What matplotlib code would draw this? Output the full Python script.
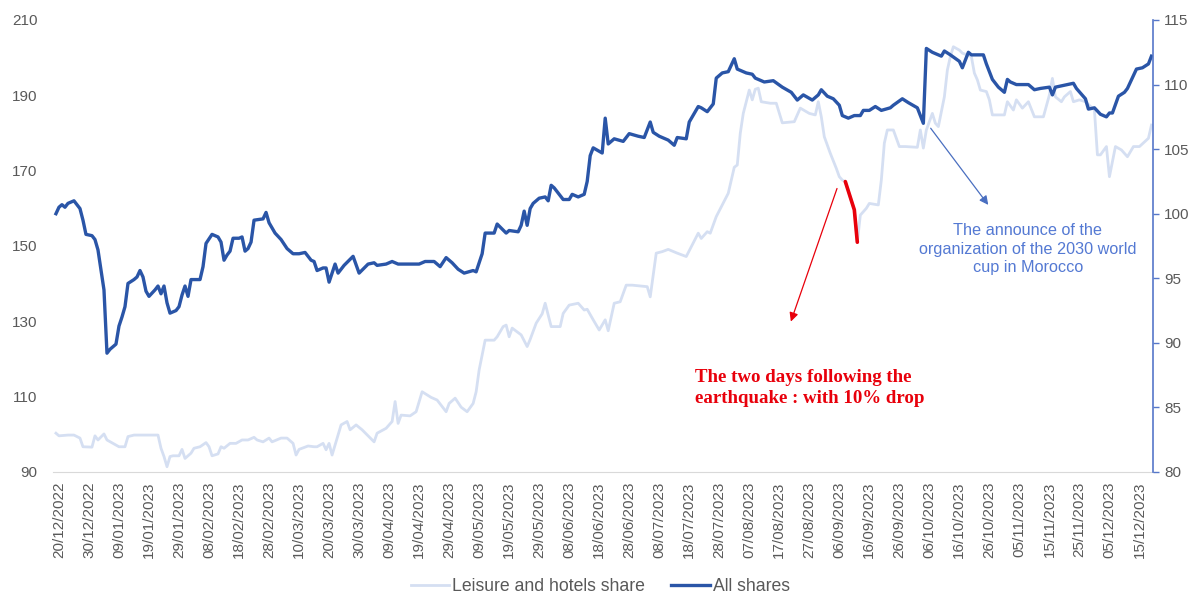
import matplotlib
matplotlib.use("Agg")
import matplotlib.pyplot as plt
import matplotlib.dates as mdates
import pandas as pd

plt.rcParams["font.family"] = ["Liberation Sans", "DejaVu Sans"]

# ---- All shares index (right axis, base 100) ----
all_dates = [
    "2022-12-19", "2022-12-20", "2022-12-21", "2022-12-22", "2022-12-23", "2022-12-25", "2022-12-26",
    "2022-12-27", "2022-12-28", "2022-12-29", "2022-12-31", "2023-01-01", "2023-01-02", "2023-01-04",
    "2023-01-05", "2023-01-06", "2023-01-08", "2023-01-09", "2023-01-10", "2023-01-11", "2023-01-12",
    "2023-01-14", "2023-01-15", "2023-01-16", "2023-01-17", "2023-01-18", "2023-01-19", "2023-01-21",
    "2023-01-22", "2023-01-23", "2023-01-24", "2023-01-25", "2023-01-26", "2023-01-28", "2023-01-29",
    "2023-01-30", "2023-01-31", "2023-02-01", "2023-02-02", "2023-02-03", "2023-02-05", "2023-02-06",
    "2023-02-07", "2023-02-09", "2023-02-11", "2023-02-12", "2023-02-13", "2023-02-14", "2023-02-15",
    "2023-02-16", "2023-02-18", "2023-02-19", "2023-02-20", "2023-02-21", "2023-02-22", "2023-02-23",
    "2023-02-26", "2023-02-27", "2023-02-28", "2023-03-02", "2023-03-04", "2023-03-06", "2023-03-08",
    "2023-03-10", "2023-03-12", "2023-03-13", "2023-03-14", "2023-03-15", "2023-03-16", "2023-03-18",
    "2023-03-19", "2023-03-20", "2023-03-22", "2023-03-23", "2023-03-25", "2023-03-28", "2023-03-30",
    "2023-04-02", "2023-04-04", "2023-04-05", "2023-04-08", "2023-04-10", "2023-04-12", "2023-04-16",
    "2023-04-19", "2023-04-21", "2023-04-24", "2023-04-26", "2023-04-28", "2023-04-30", "2023-05-02",
    "2023-05-04", "2023-05-07", "2023-05-08", "2023-05-10", "2023-05-11", "2023-05-14", "2023-05-15",
    "2023-05-18", "2023-05-19", "2023-05-22", "2023-05-23", "2023-05-24", "2023-05-25", "2023-05-26",
    "2023-05-27", "2023-05-29", "2023-05-31", "2023-06-01", "2023-06-02", "2023-06-03", "2023-06-06",
    "2023-06-08", "2023-06-09", "2023-06-11", "2023-06-13", "2023-06-14", "2023-06-15", "2023-06-16",
    "2023-06-19", "2023-06-20", "2023-06-21", "2023-06-23", "2023-06-26", "2023-06-28", "2023-07-01",
    "2023-07-03", "2023-07-05", "2023-07-06", "2023-07-08", "2023-07-11", "2023-07-13", "2023-07-14",
    "2023-07-17", "2023-07-18", "2023-07-21", "2023-07-22", "2023-07-24", "2023-07-26", "2023-07-27",
    "2023-07-29", "2023-07-31", "2023-08-02", "2023-08-03", "2023-08-06", "2023-08-08", "2023-08-09",
    "2023-08-11", "2023-08-12", "2023-08-15", "2023-08-18", "2023-08-21", "2023-08-23", "2023-08-25",
    "2023-08-28", "2023-08-30", "2023-08-31", "2023-09-02", "2023-09-04", "2023-09-06", "2023-09-07",
    "2023-09-09", "2023-09-11", "2023-09-13", "2023-09-14", "2023-09-16", "2023-09-18", "2023-09-20",
    "2023-09-23", "2023-09-24", "2023-09-27", "2023-09-29", "2023-10-02", "2023-10-03", "2023-10-04",
    "2023-10-05", "2023-10-07", "2023-10-10", "2023-10-11", "2023-10-13", "2023-10-16", "2023-10-17",
    "2023-10-19", "2023-10-20", "2023-10-24", "2023-10-25", "2023-10-27", "2023-10-29", "2023-10-31",
    "2023-11-01", "2023-11-02", "2023-11-04", "2023-11-08", "2023-11-10", "2023-11-12", "2023-11-15",
    "2023-11-16", "2023-11-17", "2023-11-19", "2023-11-23", "2023-11-24", "2023-11-27", "2023-11-28",
    "2023-11-30", "2023-12-02", "2023-12-04", "2023-12-05", "2023-12-06", "2023-12-08", "2023-12-10",
    "2023-12-11", "2023-12-14", "2023-12-16", "2023-12-18", "2023-12-19",
]
all_values = [
    100.0, 100.5, 100.7, 100.5, 100.8, 101.0, 100.7,
    100.4, 99.5, 98.4, 98.3, 98.0, 97.2, 94.1,
    89.2, 89.5, 89.9, 91.3, 92.0, 92.8, 94.6,
    94.9, 95.1, 95.6, 95.1, 94.0, 93.6, 94.1,
    94.4, 93.8, 94.4, 93.1, 92.3, 92.5, 92.8,
    93.7, 94.4, 93.6, 94.9, 94.9, 94.9, 95.9,
    97.7, 98.4, 98.2, 97.8, 96.4, 96.8, 97.1,
    98.1, 98.1, 98.2, 97.1, 97.3, 97.8, 99.5,
    99.6, 100.1, 99.3, 98.5, 98.0, 97.3, 96.9,
    96.9, 97.0, 96.7, 96.4, 96.3, 95.6, 95.8,
    95.8, 94.7, 96.1, 95.4, 96.0, 96.7, 95.4,
    96.1, 96.2, 96.0, 96.1, 96.3, 96.1, 96.1,
    96.1, 96.3, 96.3, 95.9, 96.6, 96.2, 95.7,
    95.4, 95.6, 95.5, 96.9, 98.5, 98.5, 99.2,
    98.5, 98.7, 98.6, 99.1, 100.2, 99.1, 100.4,
    100.8, 101.2, 101.3, 101.0, 102.2, 102.0, 101.1,
    101.1, 101.5, 101.3, 101.5, 102.5, 104.5, 105.1,
    104.7, 107.4, 105.4, 105.8, 105.6, 106.2, 106.0,
    105.9, 107.1, 106.3, 106.0, 105.7, 105.3, 105.9,
    105.8, 107.1, 108.3, 108.2, 107.9, 108.5, 110.5,
    110.9, 111.0, 112.0, 111.2, 110.9, 110.8, 110.5,
    110.3, 110.2, 110.3, 109.8, 109.4, 108.8, 109.2,
    108.8, 109.2, 109.6, 109.1, 108.9, 108.4, 107.6,
    107.4, 107.6, 107.6, 108.0, 108.0, 108.3, 108.0,
    108.2, 108.4, 108.9, 108.6, 108.2, 107.6, 107.0,
    112.8, 112.5, 112.2, 112.6, 112.3, 111.8, 111.3,
    112.5, 112.3, 112.3, 111.6, 110.4, 109.8, 109.4,
    110.4, 110.2, 110.0, 110.0, 109.6, 109.7, 109.8,
    109.2, 109.8, 109.9, 110.1, 109.7, 108.9, 108.1,
    108.2, 107.7, 107.5, 107.8, 107.8, 109.1, 109.4,
    109.7, 111.2, 111.3, 111.6, 112.2,
]

# ---- Leisure and hotels share (left axis, base 100) ----
leisure_dates = [
    "2022-12-19", "2022-12-20", "2022-12-23", "2022-12-25", "2022-12-27", "2022-12-28", "2022-12-31",
    "2023-01-01", "2023-01-02", "2023-01-04", "2023-01-05", "2023-01-07", "2023-01-09", "2023-01-11",
    "2023-01-12", "2023-01-14", "2023-01-18", "2023-01-22", "2023-01-23", "2023-01-24", "2023-01-25",
    "2023-01-26", "2023-01-27", "2023-01-29", "2023-01-30", "2023-01-31", "2023-02-02", "2023-02-03",
    "2023-02-05", "2023-02-07", "2023-02-08", "2023-02-09", "2023-02-11", "2023-02-12", "2023-02-13",
    "2023-02-15", "2023-02-17", "2023-02-19", "2023-02-21", "2023-02-23", "2023-02-24", "2023-02-26",
    "2023-02-28", "2023-03-01", "2023-03-04", "2023-03-06", "2023-03-08", "2023-03-09", "2023-03-10",
    "2023-03-13", "2023-03-15", "2023-03-16", "2023-03-18", "2023-03-19", "2023-03-20", "2023-03-21",
    "2023-03-24", "2023-03-26", "2023-03-27", "2023-03-29", "2023-03-31", "2023-04-04", "2023-04-05",
    "2023-04-08", "2023-04-10", "2023-04-11", "2023-04-12", "2023-04-13", "2023-04-16", "2023-04-18",
    "2023-04-20", "2023-04-23", "2023-04-25", "2023-04-28", "2023-04-29", "2023-05-01", "2023-05-03",
    "2023-05-05", "2023-05-07", "2023-05-08", "2023-05-09", "2023-05-11", "2023-05-14", "2023-05-15",
    "2023-05-17", "2023-05-18", "2023-05-19", "2023-05-20", "2023-05-23", "2023-05-25", "2023-05-26",
    "2023-05-28", "2023-05-30", "2023-05-31", "2023-06-02", "2023-06-05", "2023-06-06", "2023-06-08",
    "2023-06-11", "2023-06-13", "2023-06-14", "2023-06-16", "2023-06-18", "2023-06-20", "2023-06-21",
    "2023-06-23", "2023-06-25", "2023-06-27", "2023-06-29", "2023-07-04", "2023-07-05", "2023-07-07",
    "2023-07-09", "2023-07-11", "2023-07-14", "2023-07-17", "2023-07-21", "2023-07-22", "2023-07-24",
    "2023-07-25", "2023-07-27", "2023-07-29", "2023-07-31", "2023-08-02", "2023-08-03", "2023-08-04",
    "2023-08-05", "2023-08-07", "2023-08-08", "2023-08-09", "2023-08-10", "2023-08-11", "2023-08-14",
    "2023-08-16", "2023-08-18", "2023-08-22", "2023-08-24", "2023-08-27", "2023-08-29", "2023-08-30",
    "2023-08-31", "2023-09-01", "2023-09-03", "2023-09-05", "2023-09-06", "2023-09-07", "2023-09-08",
    "2023-09-11", "2023-09-12", "2023-09-13", "2023-09-15", "2023-09-16", "2023-09-19", "2023-09-20",
    "2023-09-21", "2023-09-22", "2023-09-24", "2023-09-26", "2023-09-28", "2023-10-02", "2023-10-03",
    "2023-10-04", "2023-10-05", "2023-10-07", "2023-10-08", "2023-10-09", "2023-10-11", "2023-10-12",
    "2023-10-13", "2023-10-14", "2023-10-16", "2023-10-17", "2023-10-20", "2023-10-21", "2023-10-22",
    "2023-10-23", "2023-10-25", "2023-10-26", "2023-10-27", "2023-10-31", "2023-11-01", "2023-11-03",
    "2023-11-04", "2023-11-06", "2023-11-08", "2023-11-10", "2023-11-13", "2023-11-15", "2023-11-16",
    "2023-11-17", "2023-11-19", "2023-11-20", "2023-11-22", "2023-11-23", "2023-11-25", "2023-11-27",
    "2023-11-30", "2023-12-01", "2023-12-02", "2023-12-04", "2023-12-05", "2023-12-07", "2023-12-09",
    "2023-12-11", "2023-12-13", "2023-12-15", "2023-12-18", "2023-12-19",
]
leisure_values = [
    100.3, 99.6, 99.8, 99.8, 99.0, 96.7, 96.6,
    99.6, 98.5, 100.1, 98.5, 97.6, 96.7, 96.7,
    99.4, 99.8, 99.8, 99.8, 96.3, 94.1, 91.4,
    94.1, 94.3, 94.3, 96.0, 93.6, 95.0, 96.3,
    96.7, 97.8, 96.7, 94.3, 94.8, 96.7, 96.3,
    97.6, 97.6, 98.5, 98.5, 99.2, 98.5, 98.0,
    99.0, 98.0, 99.0, 99.0, 97.6, 94.5, 96.0,
    96.9, 96.7, 96.7, 97.6, 95.9, 97.6, 94.5,
    102.5, 103.4, 101.2, 102.5, 101.2, 98.0, 100.3,
    101.6, 103.4, 108.7, 102.9, 105.1, 104.9, 106.0,
    111.3, 109.8, 109.1, 106.0, 108.2, 109.6, 107.2,
    106.0, 108.2, 111.3, 117.1, 125.0, 125.0, 125.9,
    128.6, 129.0, 125.9, 128.2, 126.4, 123.3, 125.2,
    129.5, 132.0, 134.8, 128.6, 128.6, 132.1, 134.3,
    134.8, 133.0, 133.2, 130.4, 127.7, 130.4, 127.5,
    134.8, 135.2, 139.6, 139.6, 139.2, 136.5, 148.1,
    148.5, 149.1, 148.1, 147.2, 153.4, 152.0, 153.8,
    153.4, 157.8, 160.9, 164.0, 170.9, 171.5, 179.9,
    185.2, 191.4, 188.8, 191.6, 191.9, 188.3, 187.9,
    187.9, 182.7, 183.0, 186.6, 185.2, 184.8, 188.3,
    184.3, 179.0, 174.6, 170.6, 168.4, 167.5, 167.1,
    159.6, 151.0, 158.2, 160.0, 161.3, 160.9, 167.5,
    177.3, 180.8, 180.8, 176.4, 176.4, 176.2, 180.8,
    176.0, 180.8, 185.2, 182.6, 181.7, 189.6, 196.7,
    200.3, 202.9, 202.0, 201.2, 200.3, 195.9, 194.1,
    191.4, 191.0, 188.8, 184.8, 184.8, 188.3, 186.1,
    188.8, 186.6, 188.3, 184.3, 184.3, 190.1, 194.5,
    189.6, 188.3, 189.6, 191.0, 188.3, 188.8, 188.3,
    186.1, 174.2, 174.2, 176.4, 168.4, 176.4, 175.5,
    173.7, 176.4, 176.4, 178.6, 182.1,
]

# Earthquake window (the two sessions after 8 September 2023)
quake_start, quake_end = "2023-09-08", "2023-09-12"

tick_labels = [
    "20/12/2022", "30/12/2022", "09/01/2023", "19/01/2023", "29/01/2023", "08/02/2023",
    "18/02/2023", "28/02/2023", "10/03/2023", "20/03/2023", "30/03/2023", "09/04/2023",
    "19/04/2023", "29/04/2023", "09/05/2023", "19/05/2023", "29/05/2023", "08/06/2023",
    "18/06/2023", "28/06/2023", "08/07/2023", "18/07/2023", "28/07/2023", "07/08/2023",
    "17/08/2023", "27/08/2023", "06/09/2023", "16/09/2023", "26/09/2023", "06/10/2023",
    "16/10/2023", "26/10/2023", "05/11/2023", "15/11/2023", "25/11/2023", "05/12/2023",
    "15/12/2023",
]

left_ticks = [90, 110, 130, 150, 170, 190, 210]
right_ticks = [80, 85, 90, 95, 100, 105, 110, 115]

DARK = "#2A55A7"
LIGHT = "#D5DFF2"
GRAY = "#595959"
AXIS_BLUE = "#5677C9"

all_s = pd.Series(all_values, index=pd.to_datetime(all_dates))
lei_s = pd.Series(leisure_values, index=pd.to_datetime(leisure_dates))

fig = plt.figure(figsize=(11.98, 5.97), dpi=100)
ax = fig.add_axes([0.0442, 0.2094, 0.9182, 0.7571])
ax2 = ax.twinx()

ax.plot(lei_s.index, lei_s.values, color=LIGHT, lw=2.0, label="Leisure and hotels share",
        solid_joinstyle="round")
quake = lei_s[quake_start:quake_end]
ax.plot(quake.index, quake.values, color="#E8000B", lw=2.6, solid_capstyle="round")
ax2.plot(all_s.index, all_s.values, color=DARK, lw=2.4, label="All shares",
         solid_joinstyle="round")

ax.set_ylim(90, 210)
ax.set_yticks(left_ticks)
ax2.set_ylim(80, 115)
ax2.set_yticks(right_ticks)

ax.set_xlim(pd.Timestamp("2022-12-18"), pd.Timestamp("2023-12-19 12:00"))
ax.set_xticks(pd.to_datetime(tick_labels, format="%d/%m/%Y"))
ax.xaxis.set_major_formatter(mdates.DateFormatter("%d/%m/%Y"))
ax.tick_params(axis="x", rotation=90, length=0, pad=7, labelsize=11, labelcolor=GRAY)
ax.tick_params(axis="y", length=0, pad=11, labelsize=11, labelcolor=GRAY)
ax2.tick_params(axis="y", length=4, width=1, color=AXIS_BLUE, pad=4, labelsize=11,
                labelcolor=GRAY)

for a in (ax, ax2):
    a.spines["top"].set_visible(False)
    a.spines["left"].set_visible(False)
ax.spines["right"].set_visible(False)
ax2.spines["bottom"].set_visible(False)
ax.spines["bottom"].set_color("#D9D9D9")
ax2.spines["right"].set_color(AXIS_BLUE)
ax2.spines["right"].set_linewidth(1.2)

# Earthquake annotation
ax.annotate("", xy=(0.670, 0.327), xytext=(0.7136, 0.633), xycoords="axes fraction",
            textcoords="axes fraction",
            arrowprops=dict(arrowstyle="-|>", color="#E8000B", lw=0.9, mutation_scale=13))
ax.text(0.5836, 0.228, "The two days following the\nearthquake : with 10% drop",
        transform=ax.transAxes, ha="left", va="top", color="#E8000B",
        fontsize=13.6, fontweight="bold", family=["Liberation Serif", "DejaVu Serif"],
        linespacing=1.3)

# World cup annotation
ax.annotate("", xy=(0.8518, 0.586), xytext=(0.7964, 0.7655), xycoords="axes fraction",
            textcoords="axes fraction",
            arrowprops=dict(arrowstyle="-|>", color="#4A6FC0", lw=0.9, mutation_scale=13))
ax.text(0.8864, 0.551, "The announce of the\norganization of the 2030 world\ncup in Morocco",
        transform=ax.transAxes, ha="center", va="top", color="#5479D3",
        fontsize=11.7, linespacing=1.3)

h1, l1 = ax.get_legend_handles_labels()
h2, l2 = ax2.get_legend_handles_labels()
fig.legend(h1[:1] + h2, l1[:1] + l2, loc="center", bbox_to_anchor=(0.501, 0.017), ncol=2,
           frameon=False, fontsize=12.7, handlelength=2.2, handletextpad=0.15,
           columnspacing=1.5, labelcolor=GRAY)

fig.savefig("out.png", dpi=100)
